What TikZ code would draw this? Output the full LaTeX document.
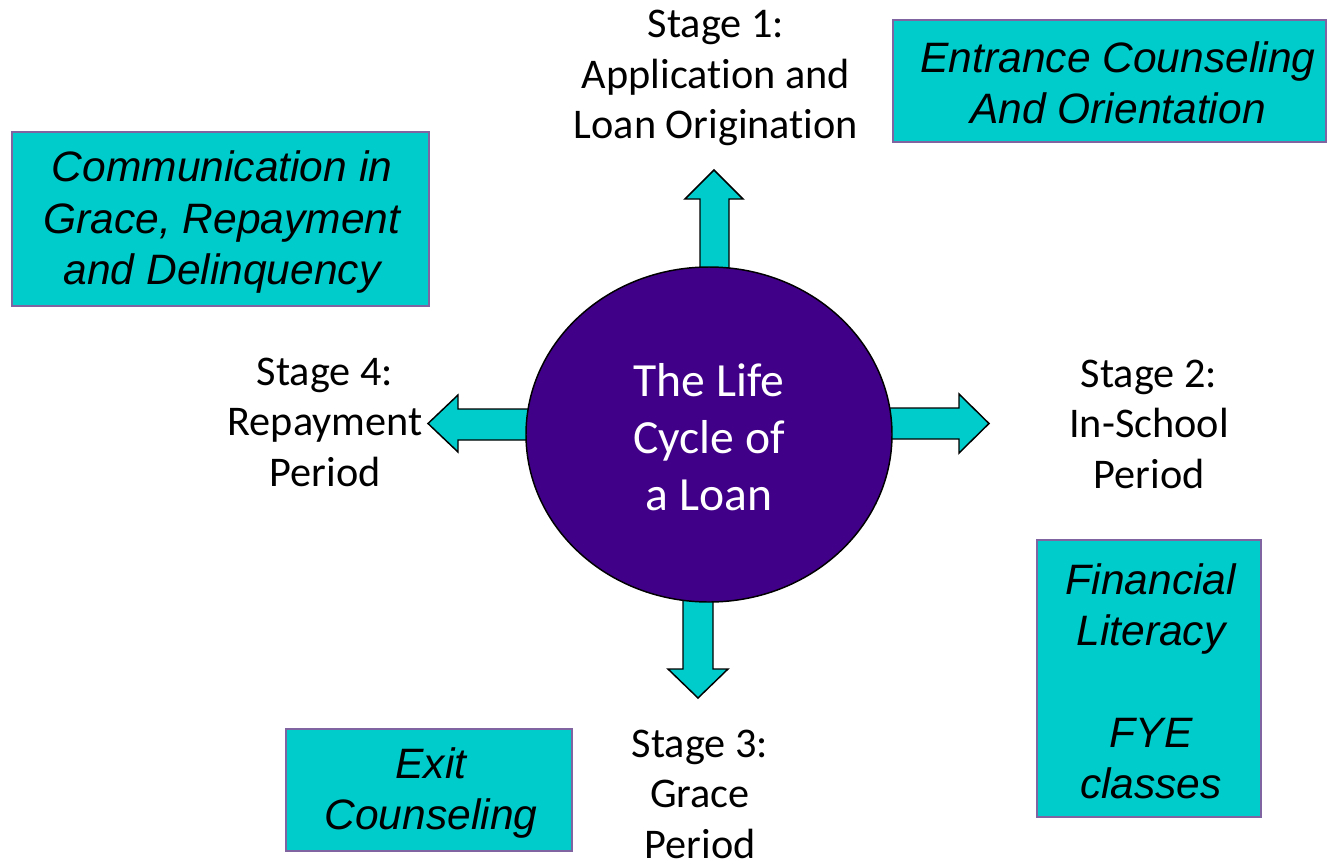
\documentclass[tikz,border=0pt]{standalone}
\usepackage{fontspec}
\setmainfont{Carlito}[Ligatures=NoCommon]
\newfontfamily\notefont{Liberation Sans}
\usetikzlibrary{shapes.geometric}

\definecolor{noteteal}{RGB}{0,204,204}
\definecolor{noteframe}{RGB}{128,100,162}
\definecolor{corepurple}{RGB}{64,0,136}

\begin{document}
\begin{tikzpicture}[x=0.75pt,y=-0.75pt,
  notebox/.style={draw=noteframe, fill=noteteal, line width=1.5pt, inner sep=0pt},
  notetext/.style={font=\notefont\itshape\fontsize{31.9}{38.3}\selectfont, align=center, inner sep=0pt},
  stagetext/.style={font=\fontsize{31.7}{37.9}\selectfont, align=center, inner sep=0pt},
  blockarrow/.style={draw=black, fill=noteteal, line width=1.1pt, line join=miter},
]
\useasboundingbox (0,0) rectangle (1328,865);

% block arrows leaving the central circle (drawn first, the circle covers their roots)
\draw[blockarrow] (700,300) -- (700,199) -- (685,199) -- (714,170) -- (743,199) -- (729,199) -- (729,300) -- cycle;
\draw[blockarrow] (870,408) -- (959,408) -- (959,394) -- (989,423.5) -- (959,453) -- (959,439) -- (870,439) -- cycle;
\draw[blockarrow] (545,409) -- (458,409) -- (458,395) -- (428,423.5) -- (458,452) -- (458,440) -- (545,440) -- cycle;
\draw[blockarrow] (683,580) -- (683,669) -- (668,669) -- (698,698) -- (728,669) -- (713,669) -- (713,580) -- cycle;

% central circle
\node[ellipse, draw=black, line width=1.1pt, fill=corepurple,
      minimum width=0.75pt*366, minimum height=0.75pt*335, inner sep=0pt] (core) at (709,434.5) {};
\node[font=\fontsize{35.7}{42.75}\selectfont, text=white, align=center, inner sep=0pt]
      (coretxt) at (709,437) {The Life\\Cycle of\\a Loan};

% stage labels
\node[stagetext] (s1) at (716,78) {Stage 1:\\Application and\\Loan Origination};
\node[stagetext] (s2) at (1149,424) {Stage 2:\\In-School\\Period};
\node[stagetext] (s3) at (700,794) {Stage 3:\\Grace\\Period};
\node[stagetext] (s4) at (325,422) {Stage 4:\\Repayment\\Period};

% activity boxes
\node[notebox, minimum width=0.75pt*433, minimum height=0.75pt*122] (entrbox) at (1109.5,81) {};
\node[notetext] (entrtxt) at (1118,83) {Entrance Counseling\\And Orientation};

\node[notebox, minimum width=0.75pt*417, minimum height=0.75pt*174] (commbox) at (220.5,218.5) {};
\node[notetext] (commtxt) at (222,222) {Communication in\\Grace, Repayment\\and Delinquency};

\node[notebox, minimum width=0.75pt*286, minimum height=0.75pt*122] (exitbox) at (429,790) {};
\node[notetext] (exittxt) at (431,793) {Exit\\Counseling};

\node[notebox, minimum width=0.75pt*224, minimum height=0.75pt*277] (finbox) at (1149,678.5) {};
\node[notetext] (fintxt) at (1151,681) {Financial\\Literacy\\[38.3pt]FYE\\classes};
\end{tikzpicture}
\end{document}
